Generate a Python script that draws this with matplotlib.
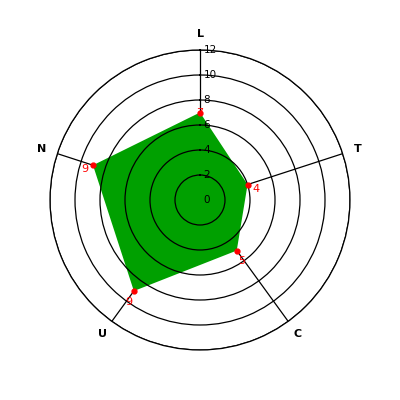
import numpy as np
import matplotlib
matplotlib.use("Agg")
import matplotlib.pyplot as plt

categories = ['L', 'T', 'C', 'U', 'N']
values = [7, 4, 5, 9, 9]
ring_ticks = [0, 2, 4, 6, 8, 10, 12]

fig = plt.figure(figsize=(4, 4), dpi=100)
ax = fig.add_axes([0.125, 0.125, 0.75, 0.75], projection='polar')
ax.set_theta_zero_location('N')
ax.set_theta_direction(-1)

angles = np.linspace(0, 2 * np.pi, len(categories), endpoint=False)
closed_a = np.append(angles, angles[0])
closed_v = np.append(values, values[0])

ax.set_ylim(0, 12)
ax.set_yticks(ring_ticks[1:])
ax.set_yticklabels([])
ax.set_xticks(angles)
ax.set_xticklabels([])
ax.set_axisbelow(False)
ax.xaxis.grid(False)
ax.yaxis.grid(True, color='black', linewidth=0.9)
ax.spines['polar'].set_color('black')
ax.spines['polar'].set_linewidth(0.9)
ax.tick_params(length=0)

# spokes sit under the fill, rings on top of it
for a in angles:
    ax.plot([a, a], [0, 12], color='black', linewidth=0.9, zorder=1)

ax.fill(closed_a, closed_v, color='#00a000', zorder=2, linewidth=0)
ax.plot(angles, values, 'o', color='red', markersize=3.5, zorder=4)

# value labels pushed outward from each point, a little downward
for a, v in zip(angles, values):
    dx = 9 * np.sin(a)
    dy = 6 * np.cos(a) - 6
    ax.annotate(str(v), (a, v), xytext=(dx, dy), textcoords='offset pixels',
                ha='center', va='center', color='red', fontsize=8, zorder=5)

for t in ring_ticks:
    ax.annotate(str(t), (0, t), xytext=(2.5, 0), textcoords='offset points',
                ha='left', va='center', fontsize=7.5, zorder=5)

for a, c in zip(angles, categories):
    ax.text(a, 13.3, c, ha='center', va='center', fontsize=8, fontweight='bold')

fig.savefig('out.png', dpi=100)
